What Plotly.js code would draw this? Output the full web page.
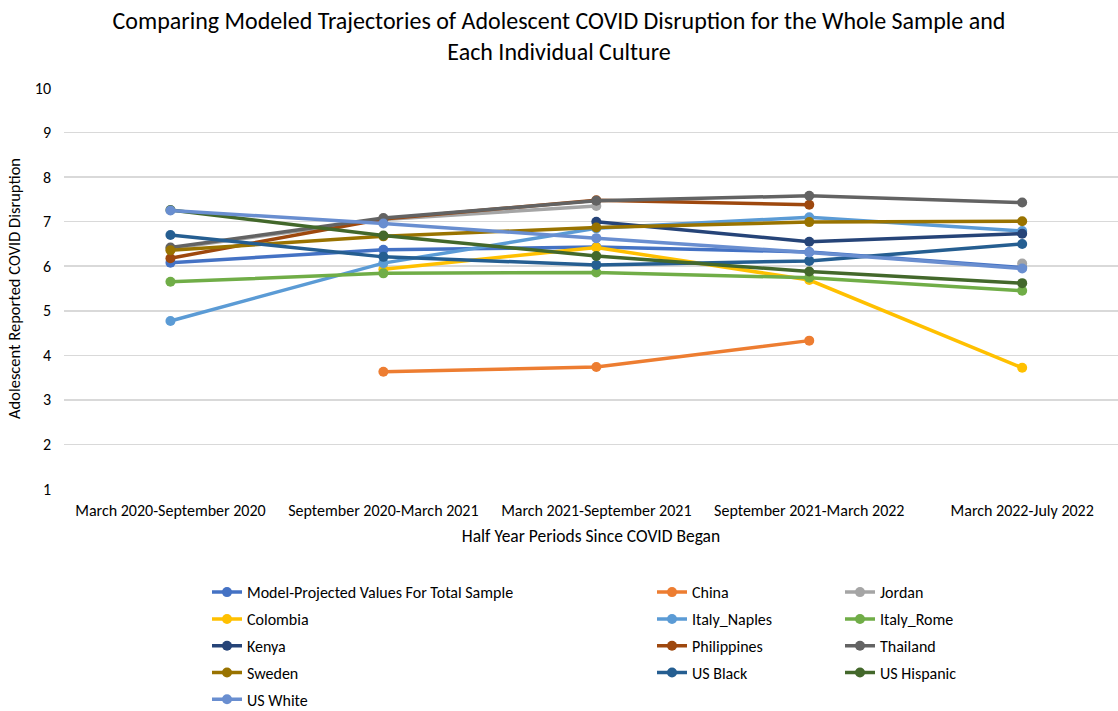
<!DOCTYPE html>
<html>
<head>
<meta charset="utf-8">
<script src="https://cdn.plot.ly/plotly-3.0.1.min.js"></script>
<style>html,body{margin:0;padding:0;background:#fff;}#chart{width:1118px;height:711px;}</style>
</head>
<body>
<div id="chart"></div>
<script>
const categories = ["March 2020-September 2020", "September 2020-March 2021", "March 2021-September 2021", "September 2021-March 2022", "March 2022-July 2022"];
const seriesNames = ["Model-Projected Values For Total Sample", "China", "Jordan", "Colombia", "Italy_Naples", "Italy_Rome", "Kenya", "Philippines", "Thailand", "Sweden", "US Black", "US Hispanic", "US White"];
const seriesColors = ["#4472C4", "#ED7D31", "#A5A5A5", "#FFC000", "#5B9BD5", "#70AD47", "#264478", "#9E480E", "#636363", "#997300", "#255E91", "#43682B", "#698ED0"];
const modelTotal = [6.08, 6.37, 6.43, 6.32, 5.97];
const china = [null, 3.63, 3.74, 4.33, null];
const jordan = [6.40, 7.05, 7.35, null, 6.06];
const colombia = [null, 5.93, 6.42, 5.69, 3.72];
const italyNaples = [4.77, 6.07, 6.85, 7.10, 6.79];
const italyRome = [5.65, 5.84, 5.86, 5.74, 5.45];
const kenya = [null, null, 7.00, 6.55, 6.73];
const philippines = [6.18, 7.06, 7.48, 7.38, null];
const thailand = [6.42, 7.08, 7.47, 7.58, 7.43];
const sweden = [6.36, 6.67, 6.87, 6.99, 7.01];
const usBlack = [6.70, 6.21, 6.03, 6.12, 6.50];
const usHispanic = [7.26, 6.69, 6.23, 5.88, 5.62];
const usWhite = [7.25, 6.96, 6.63, 6.31, 5.95];
const yTicks = [1, 2, 3, 4, 5, 6, 7, 8, 9, 10];

const allValues = [modelTotal, china, jordan, colombia, italyNaples, italyRome, kenya, philippines, thailand, sweden, usBlack, usHispanic, usWhite];
const legendOf = ["legend", "legend2", "legend3", "legend", "legend2", "legend3", "legend", "legend2", "legend3", "legend", "legend2", "legend3", "legend"];

const font = "Carlito, Calibri, Lato, 'Open Sans', sans-serif";

const traces = allValues.map((vals, i) => ({
  type: "scatter",
  mode: "lines+markers",
  name: seriesNames[i],
  x: categories,
  y: vals,
  connectgaps: false,
  line: {color: seriesColors[i], width: 3.5},
  marker: {color: seriesColors[i], size: 10},
  legend: legendOf[i],
  legendgroup: "g" + i
}));

const legendBase = {
  orientation: "v",
  yanchor: "top",
  xanchor: "left",
  y: -0.215,
  font: {family: font, size: 16, color: "#000"},
  bgcolor: "rgba(0,0,0,0)",
  tracegroupgap: 3,
  itemwidth: 30
};

const layout = {
  width: 1118,
  height: 711,
  paper_bgcolor: "#fff",
  plot_bgcolor: "#fff",
  margin: {l: 64, r: 0, t: 88, b: 222, autoexpand: false},
  title: {
    text: "Comparing Modeled Trajectories of Adolescent COVID Disruption for the Whole Sample and<br>Each Individual Culture",
    font: {family: font, size: 24, color: "#000"},
    x: 0.5, xanchor: "center", xref: "container",
    y: 1 - 29 / 711, yanchor: "middle"
  },
  xaxis: {
    type: "category",
    range: [-0.5, 4.45],
    automargin: false,
    showgrid: false,
    zeroline: false,
    showline: false,
    ticks: "",
    ticklabelstandoff: 10,
    tickfont: {family: font, size: 16, color: "#000"},
    title: {text: "Half Year Periods Since COVID Began", font: {family: font, size: 17.5, color: "#000"}, standoff: 10},
    fixedrange: true
  },
  yaxis: {
    range: [1, 10],
    automargin: false,
    tickvals: yTicks,
    showgrid: true,
    gridcolor: "#D9D9D9",
    gridwidth: 1.5,
    zeroline: false,
    showline: false,
    ticks: "",
    ticklabelstandoff: 12,
    tickfont: {family: font, size: 16, color: "#000"},
    title: {text: "Adolescent Reported COVID Disruption", font: {family: font, size: 16.5, color: "#000"}, standoff: 10},
    fixedrange: true
  },
  showlegend: true,
  legend: Object.assign({}, legendBase, {x: (207 - 64) / 1054}),
  legend2: Object.assign({}, legendBase, {x: (652 - 64) / 1054}),
  legend3: Object.assign({}, legendBase, {x: (840 - 64) / 1054})
};

Plotly.newPlot("chart", traces, layout, {displayModeBar: false, staticPlot: true});
</script>
</body>
</html>
